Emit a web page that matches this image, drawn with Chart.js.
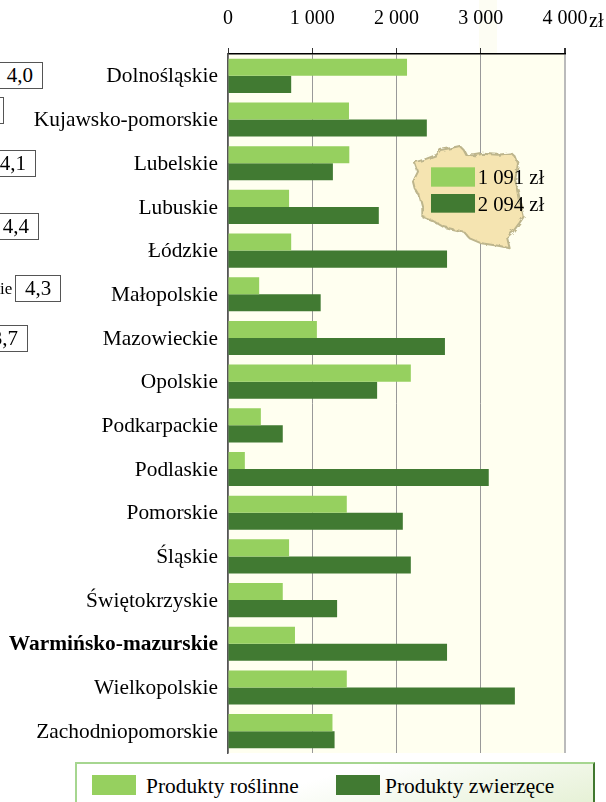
<!DOCTYPE html>
<html lang="pl">
<head>
<meta charset="utf-8">
<script src="https://cdn.jsdelivr.net/npm/chart.js@4/dist/chart.umd.min.js"></script>
<style>
  html, body { margin: 0; padding: 0; background: #fff; overflow: hidden; }
  #wrap { position: relative; width: 606px; height: 802px; overflow: hidden; font-family: "Liberation Serif", serif; color: #000; }
  #wrap canvas { position: absolute; left: 0; top: 0; }
  .band { position: absolute; left: 479px; top: 0; width: 18px; height: 54px; background: #fdfdf3; }
  .unit { position: absolute; left: 589px; top: 10px; font-size: 20px; line-height: 20px; }
  .note { position: absolute; box-sizing: border-box; height: 27px; border: 1px solid #555; background: #fff; font-size: 21px; line-height: 25px; text-align: center; }
  .stub { position: absolute; left: 0; top: 279px; font-size: 17px; line-height: 20px; }
  #map { position: absolute; left: 303px; top: 0; }
  #legend { position: absolute; left: 75px; top: 762px; width: 520px; height: 40px; box-sizing: border-box; border-top: 2px solid #a6d690; border-left: 2px solid #a6d690; border-right: 2px solid #41782f; background: linear-gradient(165deg, #ffffff 45%, #e6f1d6 100%); }
  #legend span { position: absolute; top: 10px; font-size: 21.4px; line-height: 24px; white-space: nowrap; }
  #legend i { position: absolute; top: 11px; width: 44px; height: 20px; }
</style>
</head>
<body>
<div id="wrap">
  <div class="band"></div>
  <canvas id="chart" width="606" height="802"></canvas>
  <div class="unit">zł</div>
  <div id="notes"></div>
  <div class="stub">ie</div>
  <svg id="map" width="303" height="270" viewBox="0 0 909 810">
    <filter id="rough" x="-5%" y="-5%" width="110%" height="110%">
      <feTurbulence type="fractalNoise" baseFrequency="0.06" numOctaves="2" seed="4"/>
      <feDisplacementMap in="SourceGraphic" scale="14"/>
    </filter>
    <path filter="url(#rough)" d="M335 487 L365 478 L400 465 L412 450 L440 445 L470 438 L482 450 L490 465 L515 466 L540 461 L585 464 L625 460 L638 472 L645 490 L641 515 L636 540 L645 570 L650 600 L656 625 L662 650 L650 668 L630 695 L612 712 L620 745 L590 738 L570 735 L535 730 L500 715 L482 695 L450 688 L420 680 L385 660 L358 650 L358 620 L350 590 L335 565 L330 545 L345 515 Z"
      fill="#f5e4b1" stroke="#bdb58c" stroke-width="6" stroke-linejoin="round"/>
    <rect x="384" y="502" width="132" height="58" fill="#96d05f"/>
    <rect x="384" y="582" width="132" height="56" fill="#417a32"/>
    <text id="avg0" x="524" y="552" font-family="Liberation Serif" font-size="62"></text>
    <text id="avg1" x="524" y="632" font-family="Liberation Serif" font-size="62"></text>
  </svg>
  <div id="legend"></div>
</div>
<script>
const regions = ['Dolnośląskie', 'Kujawsko-pomorskie', 'Lubelskie', 'Lubuskie', 'Łódzkie', 'Małopolskie', 'Mazowieckie', 'Opolskie',
  'Podkarpackie', 'Podlaskie', 'Pomorskie', 'Śląskie', 'Świętokrzyskie', 'Warmińsko-mazurskie', 'Wielkopolskie', 'Zachodniopomorskie'];
const plantValues = [2125, 1436, 1440, 725, 750, 370, 1055, 2170, 390, 200, 1410, 725, 650, 795, 1410, 1240];
const animalValues = [750, 2360, 1245, 1790, 2600, 1100, 2575, 1770, 650, 3095, 2075, 2170, 1295, 2600, 3405, 1265];
const seriesNames = ['Produkty roślinne', 'Produkty zwierzęce'];
const seriesColors = ['#96d05f', '#417a32'];
const tickLabels = ['0', '1 000', '2 000', '3 000', '4 000'];
const averageLabels = ['1 091 zł', '2 094 zł'];
const noteLabels = ['4,0', '', '4,1', '4,4', '4,3', '3,7'];
const highlighted = 'Warmińsko-mazurskie';

// the boxes cut off by the left edge of the page
const noteBoxes = [[-60, 103, 62], [-60, 64, 97], [-60, 96, 150], [-60, 99, 213], [15, 46, 275], [-60, 88, 325]];
noteBoxes.forEach((b, i) => {
  const el = document.createElement('div');
  el.className = 'note';
  el.style.left = b[0] + 'px';
  el.style.width = b[1] + 'px';
  el.style.top = b[2] + 'px';
  el.style.textAlign = i === 4 ? 'center' : 'right';
  el.style.paddingRight = i === 4 ? '0' : '9px';
  el.textContent = noteLabels[i];
  document.getElementById('notes').appendChild(el);
});

document.getElementById('avg0').textContent = averageLabels[0];
document.getElementById('avg1').textContent = averageLabels[1];

const plotBackground = {
  id: 'plotBackground',
  beforeDraw(chart) {
    const { ctx, chartArea: a } = chart;
    ctx.save();
    ctx.fillStyle = '#fffff0';
    ctx.fillRect(a.left, a.top, a.width, a.height);
    ctx.restore();
  }
};

const chart = new Chart(document.getElementById('chart'), {
  type: 'bar',
  data: {
    labels: regions,
    datasets: [
      { label: seriesNames[0], data: plantValues, backgroundColor: seriesColors[0] },
      { label: seriesNames[1], data: animalValues, backgroundColor: seriesColors[1] }
    ]
  },
  options: {
    indexAxis: 'y',
    responsive: false,
    animation: false,
    categoryPercentage: 0.78,
    barPercentage: 1,
    layout: { padding: { left: 0, right: 41, top: 0, bottom: 49 } },
    plugins: { legend: { display: false }, tooltip: { enabled: false } },
    scales: {
      x: {
        position: 'top',
        min: 0,
        max: 4000,
        afterFit: s => { s.height = 54; },
        border: { color: '#000', width: 1.5 },
        grid: {
          color: c => c.index === 4 ? '#bbbbbb' : '#999999',
          lineWidth: c => c.index === 4 ? 2 : 1,
          tickColor: '#333',
          tickLength: 6
        },
        ticks: {
          stepSize: 1000,
          maxRotation: 0,
          autoSkip: false,
          padding: 17,
          color: '#000',
          font: { family: 'Liberation Serif', size: 20 },
          callback: (v, i) => tickLabels[i]
        }
      },
      y: {
        afterFit: s => { s.width = 228; },
        border: { color: '#555', width: 1.5 },
        grid: { display: false },
        ticks: {
          padding: 2,
          labelOffset: 1,
          color: '#000',
          autoSkip: false,
          font: c => ({
            family: 'Liberation Serif',
            size: 21.4,
            weight: regions[c.index] === highlighted ? 'bold' : 'normal'
          })
        }
      }
    }
  },
  plugins: [plotBackground]
});

// legend under the plot, built from the datasets
const legendEl = document.getElementById('legend');
const swatchX = [15, 259];
const textX = [69, 308];
chart.data.datasets.forEach((ds, i) => {
  const sw = document.createElement('i');
  sw.style.left = swatchX[i] + 'px';
  sw.style.background = ds.backgroundColor;
  const tx = document.createElement('span');
  tx.style.left = textX[i] + 'px';
  tx.textContent = ds.label;
  legendEl.appendChild(sw);
  legendEl.appendChild(tx);
});
</script>
</body>
</html>
